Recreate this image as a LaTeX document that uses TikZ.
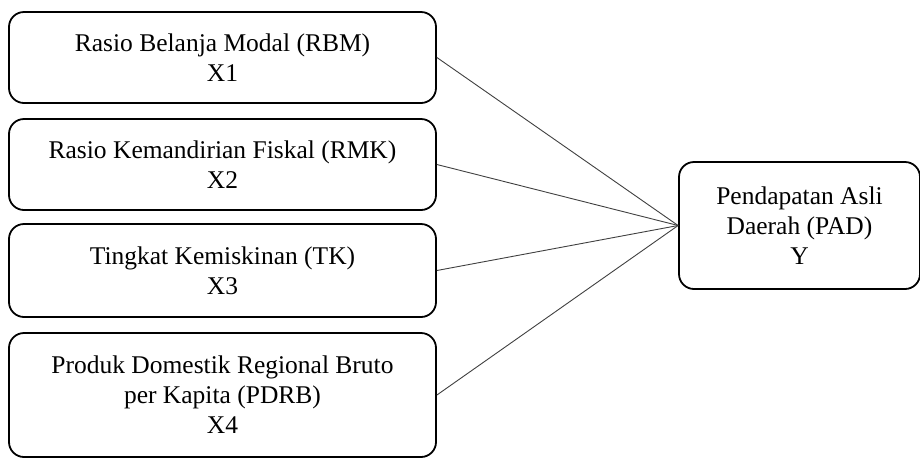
\documentclass[tikz,border=0pt]{standalone}
\usepackage{fontspec}
\setmainfont{Liberation Serif}
\begin{document}
\begin{tikzpicture}[x=1pt,y=-1pt,
  varbox/.style={draw=black, line width=1.8pt, rounded corners=15pt, align=center,
    font=\fontsize{25.5}{30}\selectfont, inner sep=0pt},
  link/.style={draw=black!75, line width=0.9pt}]
\useasboundingbox (0,0) rectangle (920,459);
\node[varbox, minimum width=427pt, minimum height=91pt] (b1) at (222.5,57.5) {Rasio Belanja Modal (RBM)\\X1};
\node[varbox, minimum width=427pt, minimum height=91pt] (b2) at (222.5,164.5) {Rasio Kemandirian Fiskal (RMK)\\X2};
\node[varbox, minimum width=427pt, minimum height=93pt] (b3) at (222.5,270.5) {Tingkat Kemiskinan (TK)\\X3};
\node[varbox, minimum width=427pt, minimum height=124pt] (b4) at (222.5,395) {Produk Domestik Regional Bruto\\per Kapita (PDRB)\\X4};
\node[varbox, minimum width=241pt, minimum height=127pt] (pad) at (799.5,225.5) {Pendapatan Asli\\Daerah (PAD)\\Y};
\foreach \b in {b1,b2,b3,b4} \draw[link] (\b.east) -- (pad.west);
\end{tikzpicture}
\end{document}
